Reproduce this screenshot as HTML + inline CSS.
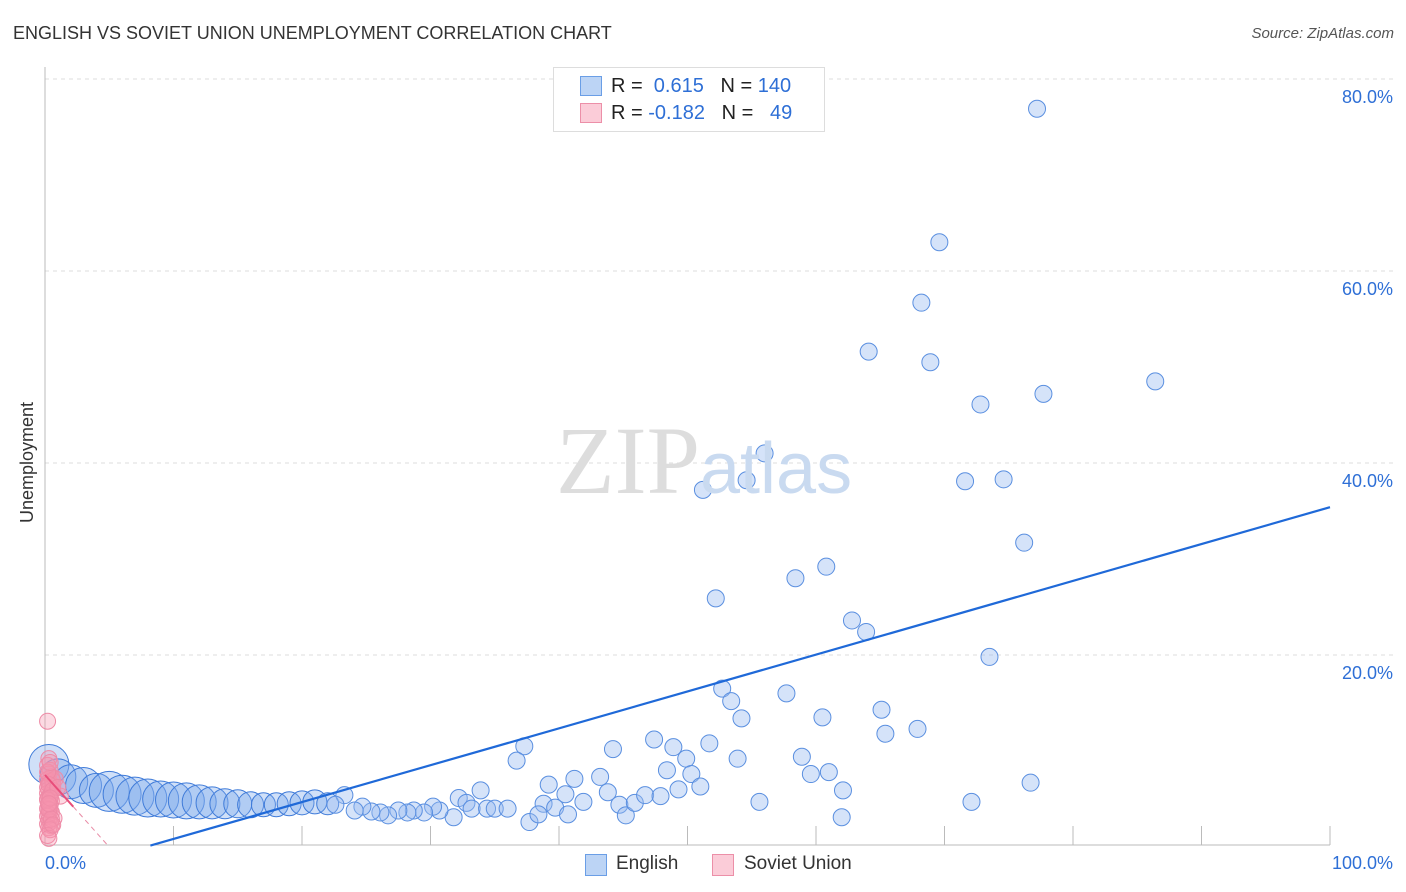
<!DOCTYPE html>
<html><head><meta charset="utf-8"><style>
body{margin:0;background:#fff;font-family:"Liberation Sans",sans-serif;}
#wrap{position:relative;width:1406px;height:892px;overflow:hidden;}
.t{position:absolute;white-space:nowrap;}
</style></head><body>
<div id="wrap">
<div class="t" style="left:13px;top:23px;font-size:18px;color:#333;">ENGLISH VS SOVIET UNION UNEMPLOYMENT CORRELATION CHART</div>
<div class="t" style="right:12px;top:25px;font-size:15px;color:#555;font-style:italic;">Source: ZipAtlas.com</div>
<svg id="svg" width="1406" height="892" style="position:absolute;left:0;top:0"></svg>
<div class="t" style="left:556px;top:405px;font-size:96px;font-family:'Liberation Serif',serif;color:#ddd;">ZIP<span style="font-family:'Liberation Sans',sans-serif;color:#c9daf0;font-size:72px">atlas</span></div>
<div style="position:absolute;left:553px;top:67px;width:270px;height:63px;border:1px solid #ddd;background:#fff;">
 <div style="position:absolute;left:26px;top:8px;width:20px;height:18px;background:#bcd4f5;border:1px solid #6a9ee6"></div>
 <div class="t" style="left:57px;top:7px;font-size:20px;color:#222">R = &nbsp;<span style="color:#2e6fd6">0.615</span> &nbsp; N = <span style="color:#2e6fd6">140</span></div>
 <div style="position:absolute;left:26px;top:35px;width:20px;height:18px;background:#fbccd8;border:1px solid #ec8fa8"></div>
 <div class="t" style="left:57px;top:34px;font-size:20px;color:#222">R = <span style="color:#2e6fd6">-0.182</span> &nbsp; N = &nbsp; <span style="color:#2e6fd6">49</span></div>
</div>
<div class="t" style="left:17px;top:523px;font-size:18px;color:#333;transform:rotate(-90deg);transform-origin:0 0;">Unemployment</div>
<div class="t" style="left:45px;top:853px;font-size:18px;color:#2e6fd6">0.0%</div>
<div class="t" style="right:13px;top:853px;font-size:18px;color:#2e6fd6">100.0%</div>
<div style="position:absolute;left:585px;top:854px;width:20px;height:20px;background:#bcd4f5;border:1px solid #6a9ee6"></div>
<div class="t" style="left:616px;top:853px;font-size:19px;color:#333">English</div>
<div style="position:absolute;left:712px;top:854px;width:20px;height:20px;background:#fbccd8;border:1px solid #ec8fa8"></div>
<div class="t" style="left:744px;top:853px;font-size:19px;color:#333">Soviet Union</div>
</div>
<script>
const yTicks=[20,40,60,80];
const yTickLabels=["20.0%","40.0%","60.0%","80.0%"];
const xTicks=[0,10,20,30,40,50,60,70,80,90,100];
const englishX=[77.2,69.6,68.2,64.1,68.9,86.4,77.7,72.8,56.0,51.2,54.6,71.6,74.6,76.2,60.8,58.4,52.2,62.8,63.9,73.5,52.7,53.4,57.7,54.2,60.5,65.1,67.9,65.4,37.3,36.7,44.2,47.4,48.9,51.7,49.9,53.9,58.9,59.6,61.0,48.4,50.3,51.0,49.3,39.2,41.2,43.2,76.7,62.1,55.6,72.1,62.0,43.8,41.9,40.5,38.8,39.7,37.7,38.4,40.7,44.7,45.2,45.9,46.7,47.9,33.9,32.2,32.8,33.2,34.4,35.0,36.0,31.8,30.7,30.2,29.5,28.7,28.2,27.5,26.7,26.1,25.4,24.7,24.1,23.3,22.6];
const englishY=[76.9,63.0,56.7,51.6,50.5,48.5,47.2,46.1,41.0,37.2,38.2,38.1,38.3,31.7,29.2,28.0,25.9,23.6,22.4,19.8,16.5,15.2,16.0,13.4,13.5,14.3,12.3,11.8,10.5,9.0,10.2,11.2,10.4,10.8,9.2,9.2,9.4,7.6,7.8,8.0,7.6,6.3,6.0,6.5,7.1,7.3,6.7,5.9,4.7,4.7,3.1,5.7,4.7,5.5,4.5,4.1,2.6,3.4,3.4,4.4,3.3,4.6,5.4,5.3,5.9,5.1,4.6,4.0,4.0,4.0,4.0,3.1,3.8,4.2,3.6,3.8,3.6,3.8,3.3,3.6,3.7,4.2,3.8,5.4,4.4];
const ribbonX=[0.3,1,2,3,4,5,6,7,8,9,10,11,12,13,14,15,16,17,18,19,20,21,22];
const ribbonY=[8.6,7.3,6.8,6.4,5.9,5.8,5.5,5.3,5.1,5.0,4.9,4.8,4.7,4.6,4.5,4.5,4.4,4.4,4.4,4.5,4.6,4.7,4.5];
const ribbonSize=[20,18,17,18,17,20,19,19,19,18,18,18,17,16,15,14,13,12,12,12,12,12,11];
const sovietX=[0.2,0.3,0.2,0.4,0.3,0.5,0.2,0.3,0.4,0.6,0.2,0.3,0.5,0.2,0.4,0.3,0.2,0.5,0.3,0.4,0.6,0.8,1.2,0.3,0.2,0.4,0.5,0.3,0.2,0.7,0.3,0.4,0.2,0.5,0.3,0.2,0.4,0.3,0.6,0.2,0.3,0.5,0.4,0.2,0.3,0.6,1.0,0.4,0.3];
const sovietY=[13.1,9.2,8.5,8.0,7.6,7.3,7.0,6.8,6.6,6.4,6.2,6.0,5.8,5.6,5.4,5.2,5.0,4.8,4.6,4.4,6.9,7.1,5.3,4.2,4.0,3.8,3.6,3.4,3.2,3.0,2.8,2.6,2.4,2.2,2.0,7.8,8.8,6.5,5.9,4.9,3.9,2.9,1.8,1.2,0.9,2.3,6.2,5.1,4.5];
const blueTrend=[[8.2,0.15],[100,35.4]];
const pinkTrend=[[0,7.5],[2.2,4.2],[5,0]];

const L=45,R=1330,T=79,B=847;
const xs=v=>L+v/100*(R-L);
const ys=v=>B-v/80*(B-T);
const svg=document.getElementById('svg');
const NS='http://www.w3.org/2000/svg';
function mk(tag,attrs){const e=document.createElementNS(NS,tag);for(const k in attrs)e.setAttribute(k,attrs[k]);svg.appendChild(e);return e;}
yTicks.forEach((t,i)=>{
 const g=mk('line',{x1:L,x2:1395,y1:ys(t),y2:ys(t),stroke:'#ddd','stroke-dasharray':'4,4'});
 
 
 const tx=mk('text',{x:1393,y:ys(t)+24,'text-anchor':'end','font-size':18,fill:'#2e6fd6','font-family':'Liberation Sans, sans-serif'});
 tx.textContent=yTickLabels[i];
 
 
});
const ax=mk('line',{x1:L,x2:L,y1:67,y2:845,stroke:'#bbb'});


const bx=mk('line',{x1:L,x2:R,y1:845,y2:845,stroke:'#bbb'});


xTicks.forEach(t=>{
 const l=mk('line',{x1:xs(t),x2:xs(t),y1:826,y2:845,stroke:'#bbb'});
 
 
});
ribbonX.forEach((x,i)=>{
 const c=mk('circle',{cx:xs(x),cy:ys(ribbonY[i]),r:ribbonSize[i],fill:'rgba(120,165,235,0.35)',stroke:'#3f7bd9','stroke-width':1});
 
 
});
englishX.forEach((x,i)=>{
 const c=mk('circle',{cx:xs(x),cy:ys(englishY[i]),r:8.5,fill:'rgba(150,185,240,0.4)',stroke:'#5a8fe0','stroke-width':1});
 
 
});
sovietX.forEach((x,i)=>{
 const c=mk('circle',{cx:xs(x),cy:ys(sovietY[i]),r:8,fill:'rgba(245,150,175,0.35)',stroke:'#ee8aa6','stroke-width':1});
 
 
});
const bl=mk('line',{x1:xs(blueTrend[0][0]),y1:ys(blueTrend[0][1]),x2:xs(blueTrend[1][0]),y2:ys(blueTrend[1][1]),stroke:'#1f69d8','stroke-width':2.2});


const p1=mk('line',{x1:xs(pinkTrend[0][0]),y1:ys(pinkTrend[0][1]),x2:xs(pinkTrend[1][0]),y2:ys(pinkTrend[1][1]),stroke:'#e84d7a','stroke-width':2});


const p2=mk('line',{x1:xs(pinkTrend[1][0]),y1:ys(pinkTrend[1][1]),x2:xs(pinkTrend[2][0]),y2:ys(pinkTrend[2][1]),stroke:'#e88aa5','stroke-width':1,'stroke-dasharray':'5,4'});


</script>
</body></html>
